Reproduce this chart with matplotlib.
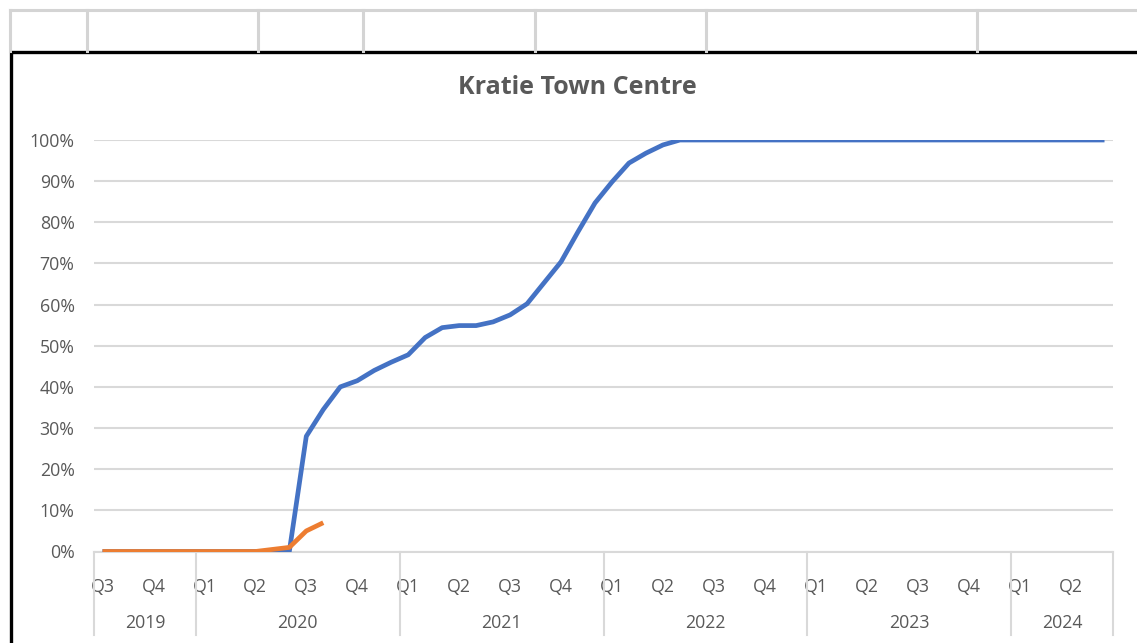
import matplotlib.pyplot as plt
from matplotlib.patches import Rectangle

# monthly values, Jul 2019 .. Jun 2024
blue = [0, 0, 0, 0, 0, 0, 0, 0, 0, 0, 0, 0,
        0.28, 0.345, 0.40, 0.415, 0.44, 0.46, 0.478, 0.52, 0.544, 0.549,
        0.549, 0.558, 0.575, 0.602, 0.653, 0.704, 0.777, 0.847, 0.898,
        0.944, 0.968, 0.988] + [1.0] * 26
orange = [0, 0, 0, 0, 0, 0, 0, 0, 0, 0, 0.005, 0.01, 0.05, 0.07]

years = ['2019', '2020', '2021', '2022', '2023', '2024']
months_in_year = [6, 12, 12, 12, 12, 6]
start_quarter = 3

title = 'Kratie Town Centre'
grey_txt = '#595959'
grid_c = '#D9D9D9'
font = ['Open Sans', 'DejaVu Sans']
plt.rcParams['font.family'] = font
fs = 12.8

W, H = 1137, 643
fig = plt.figure(figsize=(W / 100, H / 100), dpi=100)

# spreadsheet background in pixel coords
bg = fig.add_axes([0, 0, 1, 1])
bg.set_xlim(0, W)
bg.set_ylim(H, 0)
bg.axis('off')
bg.plot([10, W], [10, 10], color='#D4D4D4', lw=2.2)
for x in [10, 87, 258, 363, 535, 706, 977]:
    bg.plot([x, x], [10, 51], color='#D4D4D4', lw=2.2)
bg.add_patch(Rectangle((10.5, 51.5), W + 20, H, fill=False, ec='black', lw=2.4))

# plot area (pixel box 94..1113, 140..551.5)
left, right, top, bottom = 94, 1113, 140, 551.5
ax = fig.add_axes([left / W, 1 - bottom / H, (right - left) / W, (bottom - top) / H])
ax.patch.set_alpha(0)

n = len(blue)
x = list(range(n))
ax.plot(x, blue, color='#4472C4', lw=3.4, solid_joinstyle='round', solid_capstyle='butt', zorder=3)
ax.plot(x[:len(orange)], orange, color='#ED7D31', lw=3.4, solid_joinstyle='round', solid_capstyle='butt', zorder=4)

ax.set_xlim(-0.5, n - 0.5)
ax.set_ylim(0, 1)
for s in ax.spines.values():
    s.set_visible(False)

yt = [i / 10 for i in range(11)]
ax.set_yticks(yt)
ax.set_yticklabels([f'{int(round(v * 100))}%' for v in yt], color=grey_txt, fontsize=fs)
ax.tick_params(axis='y', length=0, pad=14)
for v in yt:
    ax.axhline(v, color=grid_c, lw=1.5, zorder=1)

# quarter labels on first month of each quarter
labels = []
q = start_quarter
for i in range(n):
    if i % 3 == 0:
        labels.append(f'Q{q}')
        q = q % 4 + 1
    else:
        labels.append('')
ax.set_xticks(x)
ax.set_xticklabels(labels, color=grey_txt, fontsize=fs)
ax.tick_params(axis='x', length=0, pad=19)

# year dividers and labels
trans = ax.get_xaxis_transform()
ax.plot([-0.5, n - 0.5], [0, 0], color=grid_c, lw=1.5, transform=trans, clip_on=False)
pos = -0.5
ax.plot([pos, pos], [0, -0.202], color=grid_c, lw=1.5, transform=trans, clip_on=False)
for yr, cnt in zip(years, months_in_year):
    ax.text(pos + cnt / 2, -0.174, yr, transform=trans, ha='center', va='center',
            color=grey_txt, fontsize=fs)
    pos += cnt
    ax.plot([pos, pos], [0, -0.202], color=grid_c, lw=1.5, transform=trans, clip_on=False)

fig.text(577 / W, 1 - 88 / H, title, ha='center', va='center', fontsize=18,
         fontweight='bold', color=grey_txt)

fig.savefig('out.png', dpi=100)
